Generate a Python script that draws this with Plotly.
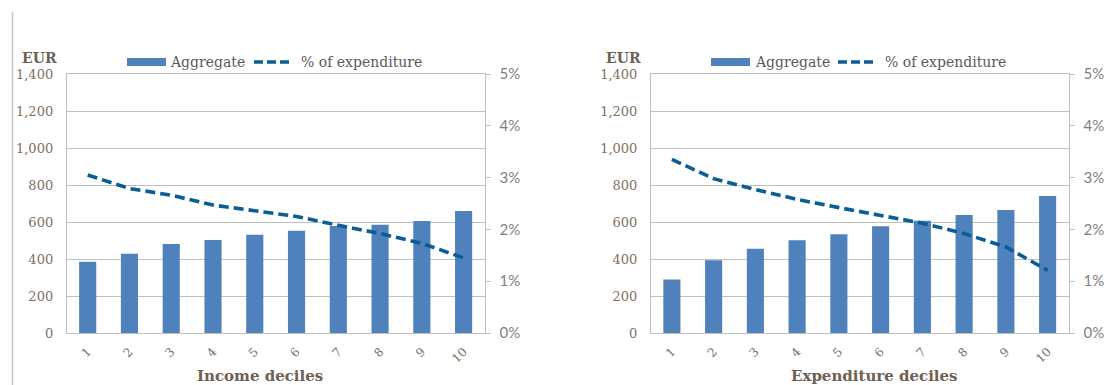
import plotly.graph_objects as go

# ---------------- data ----------------
deciles = ["1", "2", "3", "4", "5", "6", "7", "8", "9", "10"]
income_aggregate = [385, 428, 481, 503, 531, 553, 578, 585, 605, 659]
income_pct = [3.05, 2.79, 2.66, 2.47, 2.36, 2.25, 2.08, 1.92, 1.73, 1.45]
exp_aggregate = [289, 393, 456, 501, 534, 577, 607, 638, 665, 741]
exp_pct = [3.35, 2.98, 2.77, 2.58, 2.42, 2.27, 2.12, 1.92, 1.66, 1.21]
left_ticks = [0, 200, 400, 600, 800, 1000, 1200, 1400]
right_ticks = [0, 1, 2, 3, 4, 5]
right_tick_labels = ["0%", "1%", "2%", "3%", "4%", "5%"]
legend_labels = ["Aggregate", "% of expenditure"]
x_titles = ["Income deciles", "Expenditure deciles"]

# ---------------- style ----------------
W, H = 1104, 385
BAR = "#4F81BD"
LINE = "#0B5E95"
GRID = "#BFBFBF"
LABEL = "#7F6F60"
TITLE = "#6E6052"
RLABEL = "#7F7F7F"
LEGTXT = "#5A5A5A"
SERIF = "DejaVu Serif"
SANS = "Lato"
DASH = "10px,5px"


def px(x):
    return x / W


def py(y):
    return (H - y) / H


ydom = [py(333), py(74)]
xdom1 = [px(66.8), px(484.5)]
xdom2 = [px(651), px(1068.5)]

fig = go.Figure()
fig.add_trace(go.Bar(x=deciles, y=income_aggregate, xaxis="x", yaxis="y",
                     marker=dict(color=BAR, line=dict(width=0)),
                     name=legend_labels[0], showlegend=False))
fig.add_trace(go.Scatter(x=deciles, y=income_pct, xaxis="x", yaxis="y2",
                         mode="lines", line=dict(color=LINE, width=3.6, dash=DASH),
                         name=legend_labels[1], showlegend=False))
fig.add_trace(go.Bar(x=deciles, y=exp_aggregate, xaxis="x2", yaxis="y3",
                     marker=dict(color=BAR, line=dict(width=0)),
                     name=legend_labels[0], showlegend=False))
fig.add_trace(go.Scatter(x=deciles, y=exp_pct, xaxis="x2", yaxis="y4",
                         mode="lines", line=dict(color=LINE, width=3.6, dash=DASH),
                         name=legend_labels[1], showlegend=False))

xcommon = dict(type="category", tickangle=-45, showline=True, linecolor=GRID,
               linewidth=1, mirror=True, ticks="", showgrid=False, zeroline=False,
               tickfont=dict(family=SERIF, size=12, color=LABEL), automargin=False,
               range=[-0.5, 9.5], ticklabelstandoff=6)
yleft = dict(domain=ydom, range=[0, 1400], tickvals=left_ticks, tickformat=",",
             showgrid=True, gridcolor=GRID, gridwidth=1, showline=True,
             linecolor=GRID, ticks="", zeroline=False, ticklabelstandoff=10,
             tickfont=dict(family=SERIF, size=13, color=LABEL), automargin=False)
yright = dict(side="right", range=[0, 5], tickmode="array", tickvals=right_ticks,
              ticktext=right_tick_labels,
              showgrid=False, showline=True, linecolor=GRID, ticks="outside",
              ticklen=5, tickcolor=GRID, zeroline=False, ticklabelstandoff=6,
              tickfont=dict(family=SANS, size=15, color=RLABEL), automargin=False)

fig.update_layout(
    template="none",
    width=W, height=H, autosize=False,
    margin=dict(l=0, r=0, t=0, b=0, pad=0),
    paper_bgcolor="white", plot_bgcolor="white",
    bargap=0.59,
    showlegend=False,
    xaxis=dict(domain=xdom1, anchor="y", **xcommon),
    xaxis2=dict(domain=xdom2, anchor="y3", **xcommon),
    yaxis=dict(anchor="x", **yleft),
    yaxis2=dict(anchor="x", overlaying="y", **yright),
    yaxis3=dict(anchor="x2", **yleft),
    yaxis4=dict(anchor="x2", overlaying="y3", **yright),
)

annotations = []
shapes = []

# EUR unit labels
for xc in (39, 623):
    annotations.append(dict(x=px(xc), y=py(58), xref="paper", yref="paper",
                            text="<b>EUR</b>", showarrow=False, xanchor="center",
                            yanchor="middle",
                            font=dict(family=SERIF, size=14, color=TITLE)))

# x axis titles
for xc, t in ((259.5, x_titles[0]), (874, x_titles[1])):
    annotations.append(dict(x=px(xc), y=py(376), xref="paper", yref="paper",
                            text="<b>" + t + "</b>", showarrow=False,
                            xanchor="center", yanchor="middle",
                            font=dict(family=SERIF, size=15, color=TITLE)))

# legends (drawn by hand to mimic the wide swatches)
for rx0, rx1, tx1, dx0, dx1, tx2 in ((127, 166, 168, 254, 290, 299),
                                     (711, 750, 753, 838, 874, 883)):
    shapes.append(dict(type="rect", xref="paper", yref="paper",
                       x0=px(rx0), x1=px(rx1), y0=py(66), y1=py(58),
                       fillcolor=BAR, line=dict(width=0)))
    annotations.append(dict(x=px(tx1), y=py(61.5), xref="paper", yref="paper",
                            text=legend_labels[0], showarrow=False, xanchor="left",
                            yanchor="middle",
                            font=dict(family=SERIF, size=14, color=LEGTXT)))
    shapes.append(dict(type="line", xref="paper", yref="paper",
                       x0=px(dx0), x1=px(dx1), y0=py(62), y1=py(62),
                       line=dict(color=LINE, width=3.6, dash="9px,4px")))
    annotations.append(dict(x=px(tx2), y=py(61.5), xref="paper", yref="paper",
                            text=legend_labels[1], showarrow=False, xanchor="left",
                            yanchor="middle",
                            font=dict(family=SERIF, size=14, color=LEGTXT)))

# panel border on the left
shapes.append(dict(type="line", xref="paper", yref="paper",
                   x0=px(12.5), x1=px(12.5), y0=py(12), y1=0,
                   line=dict(color="#C4C4C4", width=1.5)))

fig.update_layout(annotations=annotations, shapes=shapes)

fig.write_html("out.html")
